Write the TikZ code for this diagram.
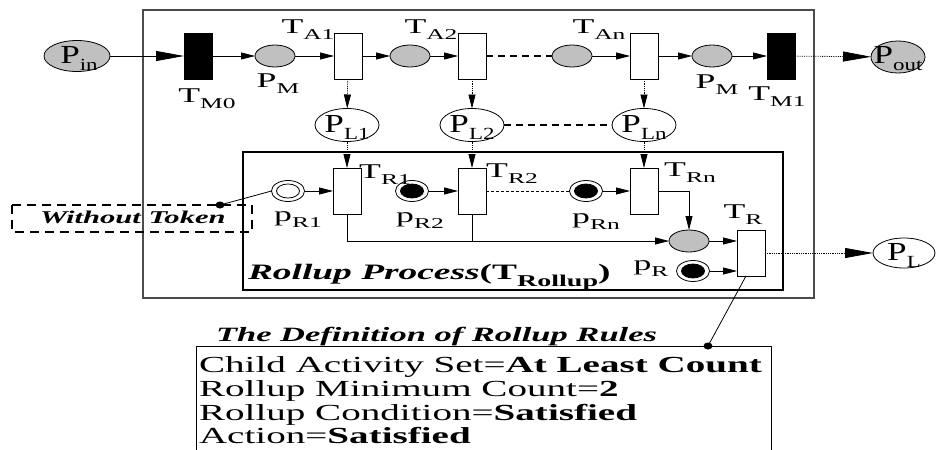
\documentclass[tikz,border=0pt]{standalone}
\usepackage{fontspec}
\setmainfont{Liberation Serif}[FakeStretch=1.7]
\newfontfamily\circfont{Liberation Serif}[FakeStretch=1.35]
\usetikzlibrary{shapes.geometric,arrows.meta}
\definecolor{pgray}{RGB}{192,192,192}
\newcommand{\lsub}[1]{\raisebox{-6pt}{\fontsize{15pt}{15pt}\selectfont #1}}
\newcommand{\psub}[1]{\raisebox{-7pt}{\fontsize{17pt}{17pt}\selectfont #1}}
\begin{document}
\begin{tikzpicture}[x=1pt,y=-1pt,
 every node/.style={inner sep=0pt,outer sep=0pt},
 place/.style={ellipse,draw,fill=pgray,minimum width=40pt,minimum height=22pt},
 bplace/.style={ellipse,draw,minimum width=64pt,minimum height=33pt},
 trans/.style={rectangle,draw,fill=white,minimum width=28pt,minimum height=46pt},
 btrans/.style={trans,fill=black},
 ring/.style={ellipse,draw,fill=white,minimum width=33pt,minimum height=21pt},
 core/.style={ellipse,draw,minimum width=23pt,minimum height=14pt},
 lab/.style={font=\fontsize{21pt}{21pt}\selectfont},
 plab/.style={font=\circfont\fontsize{26pt}{26pt}\selectfont},
 arr/.style={-{Triangle[length=14pt,width=7pt]}},
 barr/.style={-{Triangle[length=28pt,width=10pt]}},
 dotl/.style={densely dotted},
 dsh/.style={dash pattern=on 7pt off 5pt, line width=1.4pt},
 dotnode/.style={ellipse,fill=black,minimum width=9pt,minimum height=7pt},
 rule/.style={anchor=base west, font=\fontsize{23pt}{23pt}\selectfont},
 line width=0.8pt]
\useasboundingbox (0,0) rectangle (938,450);

% boxes
\draw[line width=1.3pt, draw=black!70] (143,10) rectangle (814,298);
\draw[line width=2.2pt] (243,152) rectangle (783,290);
\draw[line width=1.3pt, dash pattern=on 9pt off 6pt] (12,205) rectangle (252,232);
\draw[line width=1pt] (196,452) -- (196,346) -- (771,346) -- (771,452);

% main row
\node[bplace,fill=pgray,minimum width=66pt,minimum height=31pt] (pin) at (77,56) {};
\node[btrans] (tm0) at (198,56) {};
\node[place] (pm1) at (275,56) {};
\node[trans] (ta1) at (348,56) {};
\node[place] (e2) at (410,56) {};
\node[trans] (ta2) at (472,56) {};
\node[place] (e3) at (572,56) {};
\node[trans] (tan) at (644,56) {};
\node[place] (pm2) at (712,56) {};
\node[btrans] (tm1) at (781,56) {};
\node[bplace,fill=pgray,minimum width=54pt,minimum height=32pt] (pout) at (898,57) {};

\node[bplace] (pl1) at (347,125) {};
\node[bplace] (pl2) at (472,125) {};
\node[bplace] (pln) at (644,125) {};

% rollup
\node[trans] (tr1) at (347,191) {};
\node[trans] (tr2) at (472,191) {};
\node[trans] (trn) at (644,191) {};
\node[place] (g) at (689,241) {};
\node[trans] (tr) at (751,253) {};
\node[ring] (pr1) at (288,191) {};
\node[core] (pr1c) at (288,191) {};
\node[ring] (pr2) at (412,191) {};
\node[core,fill=black] (pr2c) at (412,191) {};
\node[ring] (prn) at (586,191) {};
\node[core,fill=black] (prnc) at (586,191) {};
\node[ring] (pr) at (693,271) {};
\node[core,fill=black] (prc) at (693,271) {};
\node[bplace,minimum width=62pt,minimum height=30pt] (plo) at (904,253) {};

% connectors main row
\draw[barr] (pin) -- (tm0);
\draw[arr] (tm0) -- (pm1);
\draw[arr] (pm1) -- (ta1);
\draw[arr] (ta1) -- (e2);
\draw[arr] (e2) -- (ta2);
\draw[dsh] (ta2) -- (e3);
\draw[arr] (e3) -- (tan);
\draw[arr] (tan) -- (pm2);
\draw[arr] (pm2) -- (tm1);
\draw[dotl,barr] (tm1) -- (pout);

\draw[dotl,arr] (ta1) -- (pl1);
\draw[dotl,arr] (ta2) -- (pl2);
\draw[dotl,arr] (tan) -- (pln);
\draw[dsh] (pl2) -- (pln);
\draw[dotl,arr] (pl1) -- (tr1);
\draw[dotl,arr] (pl2) -- (tr2);
\draw[dotl,arr] (pln) -- (trn);

\draw[arr] (pr1) -- (tr1);
\draw[arr] (pr2) -- (tr2);
\draw[dash pattern=on 3pt off 2pt] (tr2) -- (prn);
\draw[arr] (prn) -- (trn);
\coordinate (m1) at (347,241);
\coordinate (m2) at (472,241);
\coordinate (bend) at (689,191);
\draw[arr] (tr1.south) -- (m1) -- (g.west);
\draw (tr2.south) -- (m2);
\draw[arr] (trn.east) -- (bend) -- (g.north);
\draw[arr] (g.east) -- (g.east -| tr.west);
\draw[arr] (pr.east) -- (pr.east -| tr.west);
\draw[dotl,barr] (tr) -- (plo);

\node[dotnode] (wd) at (220,205) {};
\draw (wd.center) -- (pr1.west);
\node[dotnode] (dd) at (708,346) {};
\draw ([xshift=-5pt]tr.south) -- (dd.center);

% labels
\node[plab] (pinl) at (79,58) {P\psub{in}};
\node[plab] (poutl) at (898,59) {P\psub{out}};
\node[plab] (pl1l) at (347,127) {P\psub{L1}};
\node[plab] (pl2l) at (472,127) {P\psub{L2}};
\node[plab] (plnl) at (644,127) {P\psub{Ln}};
\node[plab] (plol) at (904,255) {P\psub{L}};
\node[lab] (tm0l) at (207,99) {T\lsub{M0}};
\node[lab] (pm1l) at (278,84) {P\lsub{M}};
\node[lab] (ta1l) at (308,30) {T\lsub{A1}};
\node[lab] (ta2l) at (431,30) {T\lsub{A2}};
\node[lab] (tanl) at (599,30) {T\lsub{An}};
\node[lab] (pm2l) at (717,85) {P\lsub{M}};
\node[lab] (tm1l) at (777,97) {T\lsub{M1}};
\node[lab] (tr1l) at (385,175) {T\lsub{R1}};
\node[lab] (tr2l) at (512,174) {T\lsub{R2}};
\node[lab] (trnl) at (690,173) {T\lsub{Rn}};
\node[lab] (trl) at (743,215) {T\lsub{R}};
\node[lab] (pr1l) at (298,220) {p\lsub{R1}};
\node[lab] (pr2l) at (420,221) {p\lsub{R2}};
\node[lab] (prnl) at (596,222) {p\lsub{Rn}};
\node[lab] (prl) at (651,269) {p\lsub{R}};

\node[anchor=base west, font=\fontsize{18pt}{18pt}\selectfont\bfseries\itshape] (wt) at (40,223) {Without Token};
\node[anchor=base west, font=\fontsize{22pt}{22pt}\selectfont\bfseries] (rpt) at (248,279) {\textit{Rollup Process}(T\raisebox{-7pt}{\fontsize{16.5pt}{16.5pt}\selectfont Rollup})};
\node[anchor=base west, font=\fontsize{20.3pt}{20.3pt}\selectfont\bfseries\itshape] (title) at (216,341) {The Definition of Rollup Rules};
\node[rule] (r1) at (199,372) {Child Activity Set=\textbf{At Least Count}};
\node[rule] (r2) at (199,396) {Rollup Minimum Count=\textbf{2}};
\node[rule] (r3) at (199,420) {Rollup Condition=\textbf{Satisfied}};
\node[rule] (r4) at (199,443) {Action=\textbf{Satisfied}};
\end{tikzpicture}
\end{document}
